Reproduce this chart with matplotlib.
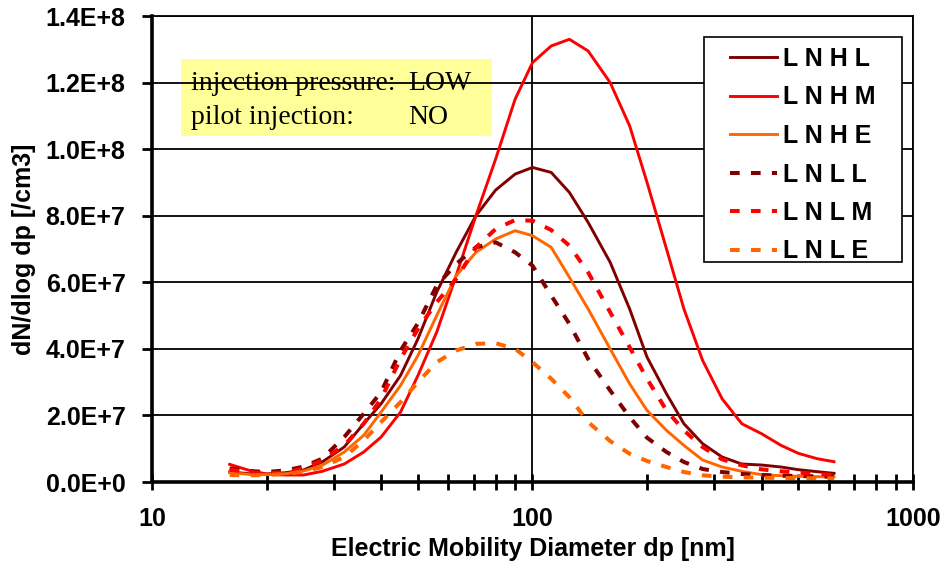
import math
import matplotlib
matplotlib.use("Agg")
import matplotlib.pyplot as plt
from matplotlib.ticker import FixedLocator, FuncFormatter, NullFormatter, LogLocator
from matplotlib.patches import Rectangle

# ---- data (dN/dlog dp in units of 1e6 /cm3) ----
diam = [16, 18, 20, 22.5, 25, 28, 32, 36, 40, 45, 50, 56, 63, 71, 80, 90, 100,
        112, 125, 140, 160, 180, 200, 225, 250, 280, 315, 355, 400, 450, 500, 560, 620]

LNHL = [3.0, 2.5, 2.4, 2.8, 3.6, 6.0, 10.5, 17.5, 23.5, 32, 43, 57, 69, 80, 87.7, 92.5, 94.5,
        93, 87, 78, 66, 52, 37.5, 26.5, 17.5, 11.5, 7.5, 5.4, 5.1, 4.5, 3.7, 3.1, 2.6]
LNHM = [5.3, 3.5, 2.4, 2.1, 2.1, 3.2, 5.4, 9.0, 13.5, 21, 32, 45, 62, 80, 97, 115, 126,
        131, 133, 129.5, 120, 107, 90, 70, 52, 36.5, 25, 17.5, 14.5, 11, 8.6, 7.0, 6.1]
LNHE = [2.8, 2.3, 2.2, 2.5, 3.3, 5.0, 9.0, 14, 21, 29, 38, 50, 62, 69, 73, 75.5, 74,
        70.5, 61.5, 52, 40, 29.5, 21.5, 15.5, 11, 6.6, 4.5, 3.2, 2.2, 1.9, 1.7, 1.6, 1.5]
LNLL = [4.1, 3.3, 3.0, 3.5, 4.6, 7.0, 13.5, 20.5, 27, 39.5, 47.7, 59, 65.5, 70.5, 72, 69, 65,
        56, 47.5, 37, 27.5, 19.5, 13.3, 9, 6, 3.9, 3.0, 2.4, 2.1, 1.9, 1.8, 1.7, 1.6]
LNLM = [3.7, 3.0, 2.6, 2.9, 4.1, 6.5, 11, 17.5, 25, 37, 46, 54, 61, 70.5, 76, 78.7, 78.5,
        75.7, 71, 63, 51, 40.5, 31, 21.5, 15.5, 10.5, 6.8, 5.0, 3.8, 3.2, 2.8, 2.4, 2.1]
LNLE = [2.1, 2.0, 2.1, 2.4, 3.1, 4.5, 7.5, 12.5, 18, 24, 30, 36, 39.5, 41.5, 41.7, 40, 36,
        31, 25.5, 18, 12.3, 8.5, 6.3, 4.5, 3.0, 2.0, 1.6, 1.4, 1.3, 1.2, 1.2, 1.1, 1.1]

series_names = ["L N H L", "L N H M", "L N H E", "L N L L", "L N L M", "L N L E"]
series_vals = [LNHL, LNHM, LNHE, LNLL, LNLM, LNLE]
colors = ["#800000", "#FF0000", "#FF6600", "#800000", "#FF0000", "#FF6600"]
dashed = [False, False, False, True, True, True]

x_ticks = [10, 100, 1000]
y_ticks = [0, 2e7, 4e7, 6e7, 8e7, 1e8, 1.2e8, 1.4e8]

note_lines = [("injection pressure:", "LOW"), ("pilot injection:", "NO")]

# ---- figure ----
W, H, DPI = 945, 572, 100
fig = plt.figure(figsize=(W / DPI, H / DPI), dpi=DPI)
L, R, B, T = 152, 913, 482, 16
ax = fig.add_axes([L / W, 1 - B / H, (R - L) / W, (B - T) / H])


def axx(px):
    return (px - L) / (R - L)


def axy(py):
    return (B - py) / (B - T)


for name, vals, c, d in zip(series_names, series_vals, colors, dashed):
    y = [v * 1e6 for v in vals]
    if d:
        ax.plot(diam, y, color=c, lw=2.9, linestyle=(0, (2.4, 2.8)), label=name,
                dash_capstyle="butt")
    else:
        ax.plot(diam, y, color=c, lw=2.1, label=name)

ax.set_xscale("log")
ax.set_xlim(10, 1000)
ax.set_ylim(0, 1.4e8)

ax.xaxis.set_major_locator(FixedLocator(x_ticks))
ax.xaxis.set_major_formatter(FuncFormatter(lambda v, p: f"{int(round(v))}"))
ax.xaxis.set_minor_locator(LogLocator(base=10, subs=range(2, 10)))
ax.xaxis.set_minor_formatter(NullFormatter())


def yfmt(v, p):
    if v == 0:
        return "0.0E+0"
    e = int(math.floor(math.log10(abs(v)) + 1e-9))
    m = v / 10 ** e
    return f"{m:.1f}E+{e}"


ax.yaxis.set_major_locator(FixedLocator(y_ticks))
ax.yaxis.set_major_formatter(FuncFormatter(yfmt))

font = "Liberation Sans"
fs = 18
ax.tick_params(axis="x", which="major", direction="inout", length=12, width=2,
               pad=12, labelsize=fs, top=False)
ax.tick_params(axis="x", which="minor", direction="inout", length=12, width=2, top=False)
ax.tick_params(axis="y", which="major", direction="out", length=7, width=2,
               pad=12, labelsize=fs, right=False)
for lab in ax.get_xticklabels() + ax.get_yticklabels():
    lab.set_fontfamily(font)
    lab.set_fontweight("bold")

ax.grid(True, which="major", axis="both", color="black", lw=1.3)
ax.set_axisbelow(True)

for s in ["left", "bottom"]:
    ax.spines[s].set_linewidth(2.6)
for s in ["top", "right"]:
    ax.spines[s].set_linewidth(1.3)

ax.set_xlabel("Electric Mobility Diameter dp [nm]", fontsize=fs, fontweight="bold",
              family=font)
ax.set_ylabel("dN/dlog dp [/cm3]", fontsize=fs, fontweight="bold", family=font)
ax.xaxis.set_label_coords(0.5, -0.118)
ax.yaxis.set_label_coords(-0.152, 0.5)

# annotation box
ax.add_patch(Rectangle((axx(181), axy(136)), axx(492) - axx(181), axy(59) - axy(136),
                       transform=ax.transAxes, facecolor="#FFFF99", edgecolor="none",
                       zorder=0.2))
serif = "Liberation Serif"
for i, (k, v) in enumerate(note_lines):
    yb = axy(90 + 34 * i)
    ax.text(axx(191), yb, k, transform=ax.transAxes, fontsize=20,
            family=serif, va="baseline", ha="left", zorder=0.3)
    ax.text(axx(408), yb, v, transform=ax.transAxes, fontsize=20,
            family=serif, va="baseline", ha="left", zorder=0.3)

# legend (entries) and its frame
leg = ax.legend(loc="upper left", bbox_to_anchor=(axx(730), axy(47)),
                borderaxespad=0, borderpad=0, frameon=False,
                handlelength=1.88, handletextpad=0.24, labelspacing=0.58,
                prop={"family": font, "weight": "bold", "size": fs})
leg.set_zorder(6)
ax.add_patch(Rectangle((axx(704), axy(262)), axx(902) - axx(704), axy(37) - axy(262),
                       transform=ax.transAxes, facecolor="white", edgecolor="black",
                       lw=1.2, zorder=5))

fig.savefig("out.png", dpi=DPI)
